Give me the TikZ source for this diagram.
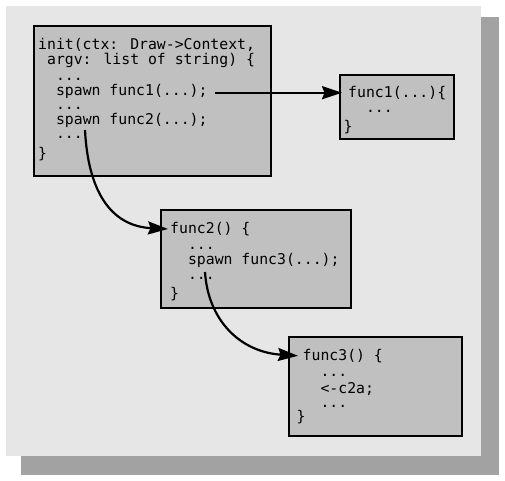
\documentclass[tikz,border=0pt]{standalone}
\usepackage{fontspec}
\newfontfamily\codefont{DejaVu Sans Mono}
\usetikzlibrary{arrows.meta}
\definecolor{panelgray}{HTML}{E6E6E6}
\definecolor{shadowgray}{HTML}{A2A2A2}
\definecolor{boxfill}{HTML}{C0C0C0}
\begin{document}
\begin{tikzpicture}[x=1pt,y=-1pt,
  code/.style={anchor=base west, inner sep=0pt, font=\codefont\fontsize{14.8}{16}\selectfont, text=black},
  box/.style={draw=black, line width=2pt, fill=boxfill, inner sep=0pt},
  arr/.style={line width=2.2pt, -{Stealth[length=20pt,width=13pt,inset=2.5pt]}}]
\useasboundingbox (0,0) rectangle (505,480);
\fill[white] (0,0) rectangle (505,480);
\fill[shadowgray] (21,17) rectangle (499,475);
\fill[panelgray] (6,6) rectangle (481,456);
% boxes
\node[box, minimum width=236.4pt, minimum height=150.3pt] (initbox) at (152.5,100.9) {};
\node[box, minimum width=113.4pt, minimum height=64pt] (f1box) at (397,107) {};
\node[box, minimum width=190.3pt, minimum height=98.3pt] (f2box) at (256.2,259.2) {};
\node[box, minimum width=173pt, minimum height=99pt] (f3box) at (375.8,386.5) {};
% init text
\node[code] (i1) at (38,49) {init(ctx: Draw->Context,};
\node[code] (i2) at (38,64.5) {\ argv: list of string) \{};
\node[code] (i3) at (38,80) {\ \ ...};
\node[code] (i4) at (38,95.5) {\ \ spawn func1(...);};
\node[code] (i5) at (38,109.5) {\ \ ...};
\node[code] (i6) at (38,124.5) {\ \ spawn func2(...);};
\node[code] (i7) at (38,138) {\ \ ...};
\node[code] (i8) at (38,158) {\}};
% func1 text
\node[code] (f1a) at (348,97.8) {func1(...)\{};
\node[code] (f1b) at (348,112.8) {\ \ ...};
\node[code] (f1c) at (343.5,131.3) {\}};
% func2 text
\node[code] (f2a) at (170,233.5) {func2() \{};
\node[code] (f2b) at (170,249) {\ \ ...};
\node[code] (f2c) at (170,264) {\ \ spawn func3(...);};
\node[code] (f2d) at (170,279) {\ \ ...};
\node[code] (f2e) at (170,298.5) {\}};
% func3 text
\node[code] (f3a) at (302.5,360.5) {func3() \{};
\node[code] (f3b) at (302.5,376) {\ \ ...};
\node[code] (f3c) at (302.5,393) {\ \ <-c2a;};
\node[code] (f3d) at (302.5,407.5) {\ \ ...};
\node[code] (f3e) at (296.5,421.5) {\}};
% arrows
\coordinate (s1) at (215,92.7);
\draw[arr, shorten >=6pt] (s1) -- (s1 -| f1a.west);
\coordinate (s2) at (85,130);
\draw[arr, shorten >=2pt] (s2) .. controls (88,190) and (110,226) .. (f2a.west);
\coordinate (s3) at (205,272);
\draw[arr, shorten >=4.5pt] (s3) .. controls (208,320) and (240,352) .. (f3a.west);
\end{tikzpicture}
\end{document}
